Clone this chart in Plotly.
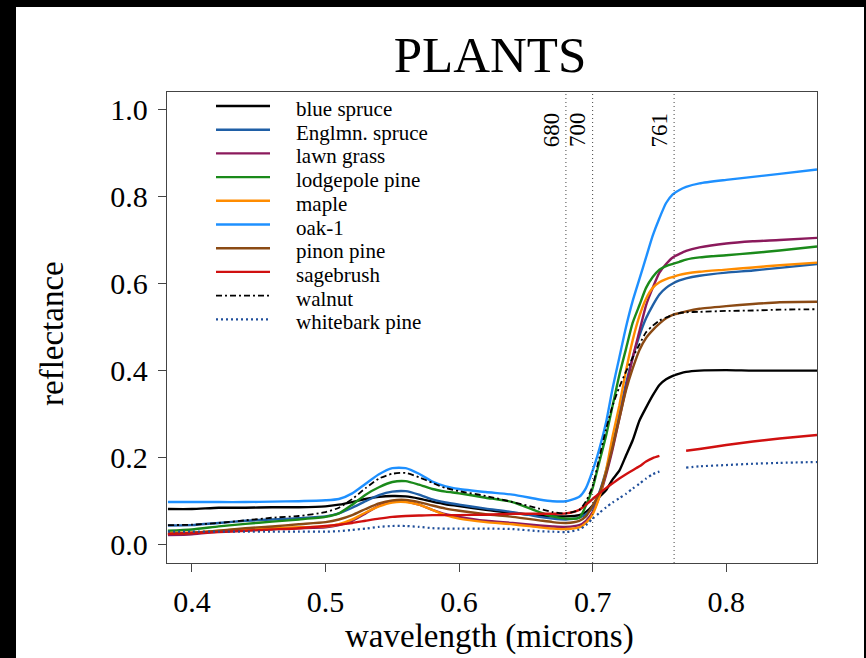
import plotly.graph_objects as go

# ---------------- data ----------------
wavelength = [0.382, 0.40, 0.42, 0.44, 0.46, 0.48, 0.50, 0.51, 0.52, 0.53, 0.54, 0.55, 0.56,
              0.57, 0.58, 0.59, 0.60, 0.62, 0.64, 0.66, 0.67, 0.68, 0.69, 0.695, 0.70, 0.705,
              0.71, 0.715, 0.72, 0.725, 0.73, 0.735, 0.74, 0.745, 0.75, 0.755, 0.76, 0.765,
              0.77, 0.78, 0.80, 0.82, 0.84, 0.868]

blue_spruce = [0.082, 0.082, 0.085, 0.085, 0.086, 0.086, 0.088, 0.092, 0.098, 0.105, 0.110, 0.112, 0.111,
               0.106, 0.099, 0.093, 0.089, 0.080, 0.073, 0.067, 0.065, 0.065, 0.068, 0.075, 0.090, 0.110,
               0.125, 0.150, 0.170, 0.205, 0.240, 0.285, 0.315, 0.343, 0.367, 0.380, 0.388, 0.393,
               0.397, 0.400, 0.401, 0.400, 0.400, 0.400]
englmn_spruce = [0.044, 0.045, 0.050, 0.055, 0.058, 0.061, 0.065, 0.072, 0.085, 0.100, 0.114, 0.122, 0.123,
                 0.115, 0.104, 0.097, 0.092, 0.083, 0.075, 0.064, 0.060, 0.058, 0.062, 0.070, 0.085, 0.120,
                 0.170, 0.230, 0.300, 0.370, 0.430, 0.480, 0.520, 0.550, 0.575, 0.590, 0.600, 0.607,
                 0.612, 0.618, 0.625, 0.630, 0.636, 0.645]
lawn_grass = [0.022, 0.024, 0.030, 0.034, 0.036, 0.038, 0.040, 0.045, 0.055, 0.072, 0.090, 0.100, 0.100,
              0.092, 0.080, 0.070, 0.064, 0.055, 0.050, 0.044, 0.042, 0.041, 0.045, 0.055, 0.075, 0.110,
              0.160, 0.220, 0.290, 0.360, 0.430, 0.490, 0.550, 0.590, 0.625, 0.645, 0.660, 0.668,
              0.675, 0.683, 0.692, 0.697, 0.700, 0.705]
lodgepole_pine = [0.032, 0.035, 0.042, 0.048, 0.053, 0.058, 0.064, 0.072, 0.092, 0.115, 0.132, 0.144, 0.146,
                  0.138, 0.128, 0.122, 0.118, 0.108, 0.098, 0.075, 0.065, 0.060, 0.062, 0.090, 0.130, 0.190,
                  0.250, 0.320, 0.390, 0.450, 0.510, 0.550, 0.590, 0.615, 0.632, 0.640, 0.645, 0.650,
                  0.655, 0.660, 0.665, 0.670, 0.676, 0.685]
maple = [0.027, 0.028, 0.032, 0.036, 0.038, 0.040, 0.042, 0.047, 0.058, 0.074, 0.088, 0.097, 0.098,
         0.092, 0.080, 0.068, 0.060, 0.052, 0.047, 0.040, 0.037, 0.036, 0.040, 0.050, 0.070, 0.110,
         0.170, 0.250, 0.320, 0.400, 0.470, 0.525, 0.565, 0.590, 0.603, 0.610, 0.615, 0.620,
         0.623, 0.627, 0.632, 0.637, 0.642, 0.648]
oak_1 = [0.098, 0.098, 0.098, 0.098, 0.099, 0.100, 0.102, 0.105, 0.118, 0.140, 0.162, 0.176, 0.176,
         0.163, 0.145, 0.134, 0.128, 0.121, 0.115, 0.104, 0.100, 0.100, 0.110, 0.130, 0.170, 0.220,
         0.280, 0.360, 0.430, 0.500, 0.560, 0.610, 0.660, 0.710, 0.750, 0.785, 0.805, 0.815,
         0.822, 0.830, 0.838, 0.845, 0.852, 0.862]
pinon_pine = [0.025, 0.027, 0.032, 0.038, 0.042, 0.047, 0.052, 0.058, 0.068, 0.082, 0.095, 0.102, 0.103,
              0.098, 0.090, 0.083, 0.078, 0.070, 0.064, 0.056, 0.052, 0.050, 0.055, 0.065, 0.090, 0.118,
              0.165, 0.225, 0.290, 0.355, 0.405, 0.447, 0.475, 0.493, 0.508, 0.520, 0.528, 0.532,
              0.536, 0.542, 0.548, 0.553, 0.557, 0.558]
sagebrush = [0.025, 0.027, 0.029, 0.032, 0.035, 0.038, 0.043, 0.046, 0.050, 0.055, 0.060, 0.064, 0.066,
             0.067, 0.068, 0.068, 0.068, 0.069, 0.071, 0.071, 0.071, 0.072, 0.080, 0.092, 0.105, 0.118,
             0.130, 0.141, 0.152, 0.162, 0.171, 0.180, 0.191, 0.199, 0.204, None, None, None,
             0.216, 0.220, 0.229, 0.237, 0.244, 0.252]
walnut = [0.045, 0.046, 0.050, 0.056, 0.062, 0.066, 0.075, 0.085, 0.105, 0.130, 0.152, 0.163, 0.165,
          0.155, 0.142, 0.130, 0.123, 0.112, 0.098, 0.083, 0.075, 0.072, 0.080, 0.100, 0.135, 0.200,
          0.265, 0.320, 0.362, 0.398, 0.430, 0.460, 0.488, 0.503, 0.515, 0.522, 0.528, 0.532,
          0.534, 0.535, 0.537, 0.538, 0.540, 0.541]
whitebark_pine = [0.030, 0.030, 0.030, 0.030, 0.030, 0.030, 0.030, 0.031, 0.034, 0.037, 0.041, 0.043, 0.043,
                  0.041, 0.038, 0.037, 0.037, 0.037, 0.036, 0.031, 0.030, 0.029, 0.035, 0.045, 0.060, 0.073,
                  0.086, 0.097, 0.107, 0.117, 0.129, 0.140, 0.152, 0.162, 0.168, None, None, None,
                  0.177, 0.180, 0.183, 0.186, 0.188, 0.190]

series_names = ["blue spruce", "Englmn. spruce", "lawn grass", "lodgepole pine", "maple",
                "oak-1", "pinon pine", "sagebrush", "walnut", "whitebark pine"]
series_values = [blue_spruce, englmn_spruce, lawn_grass, lodgepole_pine, maple,
                 oak_1, pinon_pine, sagebrush, walnut, whitebark_pine]

marker_lines = [0.680, 0.700, 0.761]
marker_labels = ["680", "700", "761"]

x_ticks = [0.4, 0.5, 0.6, 0.7, 0.8]
y_ticks = [0.0, 0.2, 0.4, 0.6, 0.8, 1.0]

# ---------------- styles ----------------
colors = ["#000000", "#1f5fa6", "#8b1a5c", "#1a8a1a", "#ff8c00",
          "#1e90ff", "#8b4a14", "#d01010", "#000000", "#1f4e9a"]
dashes = ["solid"] * 8 + ["6px,3px,2px,3px", "2px,3px"]
widths = [2.4] * 8 + [1.8, 2.2]
FONT = "Liberation Serif, Times New Roman, serif"

# layout geometry (pixels)
L, R, T, B = 167, 49, 92, 95
W, H = 866, 658
pw, ph = W - L - R, H - T - B


def px_x(p):
    return (p - L) / pw


def px_y(p):
    return (H - B - p) / ph


fig = go.Figure()
for name, vals, col, dsh, wd in zip(series_names, series_values, colors, dashes, widths):
    fig.add_trace(go.Scatter(
        x=wavelength, y=vals, name=name, mode="lines", showlegend=False,
        line=dict(color=col, width=wd, dash=dsh, shape="spline", smoothing=0.6),
        connectgaps=False,
    ))

# legend (drawn as line samples + text, R style)
for i, (name, col, dsh, wd) in enumerate(zip(series_names, colors, dashes, widths)):
    yy = 106 + 23.7 * i
    fig.add_shape(type="line", xref="paper", yref="paper",
                  x0=px_x(216), x1=px_x(270), y0=px_y(yy), y1=px_y(yy),
                  line=dict(color=col, width=wd, dash=dsh))
    fig.add_annotation(text=name, xref="paper", yref="paper",
                       x=px_x(294), y=px_y(yy + 3), showarrow=False,
                       xanchor="left", yanchor="middle",
                       font=dict(family=FONT, size=21, color="black"))

# vertical reference lines and labels
for xv, lab in zip(marker_lines, marker_labels):
    fig.add_shape(type="line", xref="x", yref="paper", x0=xv, x1=xv, y0=0, y1=1,
                  line=dict(color="#444444", width=1, dash="1px,3px"))
    fig.add_annotation(x=xv, y=0.953, xref="x", yref="y", text=lab, textangle=-90,
                       showarrow=False, xanchor="right", yanchor="middle",
                       font=dict(family=FONT, size=23, color="black"))

# white page inside a black frame
fig.add_shape(type="rect", xref="paper", yref="paper", layer="below",
              x0=px_x(16), x1=px_x(864), y0=px_y(664), y1=px_y(7),
              fillcolor="white", line=dict(width=0))

# axis titles
fig.add_annotation(text="wavelength (microns)", xref="paper", yref="paper",
                   x=px_x(489), y=px_y(636), showarrow=False,
                   xanchor="center", yanchor="middle",
                   font=dict(family=FONT, size=33, color="black"))
fig.add_annotation(text="reflectance", xref="paper", yref="paper", textangle=-90,
                   x=px_x(52), y=px_y(334), showarrow=False,
                   xanchor="center", yanchor="middle",
                   font=dict(family=FONT, size=33, color="black"))

fig.update_layout(
    width=W, height=H,
    margin=dict(l=L, r=R, t=T, b=B, autoexpand=False),
    paper_bgcolor="black", plot_bgcolor="white",
    title=dict(text="PLANTS", x=(490) / W, xanchor="center",
               xref="container", yref="container", y=1 - 54 / H, yanchor="middle",
               font=dict(family=FONT, size=51, color="black")),
    font=dict(family=FONT, color="black"),
    showlegend=False,
    xaxis=dict(range=[0.3813, 0.868], tickvals=x_ticks, ticktext=[f"{v:.1f}" for v in x_ticks],
               showgrid=False, zeroline=False, showline=True, linecolor="#444444", linewidth=1.3,
               mirror=True, ticks="outside", ticklen=8, tickcolor="#444444", tickwidth=1.3,
               ticklabelstandoff=4,
               tickfont=dict(family=FONT, size=30, color="black")),
    yaxis=dict(range=[-0.042, 1.04], tickvals=y_ticks, ticktext=[f"{v:.1f}" for v in y_ticks],
               showgrid=False, zeroline=False, showline=True, linecolor="#444444", linewidth=1.3,
               mirror=True, ticks="outside", ticklen=8, tickcolor="#444444", tickwidth=1.3,
               ticklabelstandoff=4,
               tickfont=dict(family=FONT, size=30, color="black")),
)

fig.write_html("out.html")
